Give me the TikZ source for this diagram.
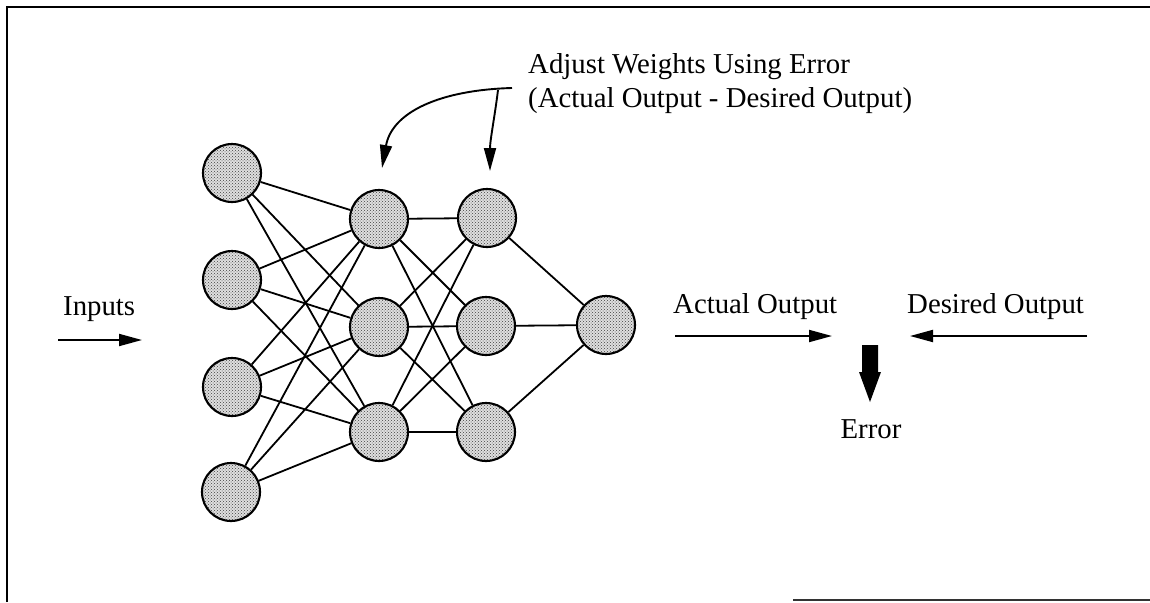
\documentclass[tikz,border=0pt]{standalone}
\usepackage{fontspec}
\setmainfont{Liberation Serif}
\usetikzlibrary{arrows.meta,patterns}

\begin{document}
\begin{tikzpicture}[x=1pt,y=-1pt,
  neuron/.style={circle, draw=black, line width=2.1pt, minimum size=58pt, inner sep=0pt,
    preaction={fill=gray!25}, pattern=crosshatch dots, pattern color=black!75},
  link/.style={line width=1.8pt},
  lbl/.style={anchor=base west, inner sep=0pt, font=\fontsize{28.8}{33}\selectfont},
  flow/.style={line width=1.9pt, -{Triangle[length=23pt,width=12pt]}},
  frame/.style={line width=2pt},
]
\useasboundingbox (0,0) rectangle (1150,602);
\fill[white] (0,0) rectangle (1150,602);

% border
\draw[frame] (7,602) -- (7,7) -- (1150,7);
\draw[line width=2.5pt, black!80] (793,600) -- (1150,600);

% input layer
\node[neuron] (I1) at (232,173) {};
\node[neuron] (I2) at (232,280) {};
\node[neuron] (I3) at (232,387) {};
\node[neuron] (I4) at (231,492) {};
% first hidden layer
\node[neuron] (H1) at (379,219) {};
\node[neuron] (H2) at (379,327) {};
\node[neuron] (H3) at (379,432) {};
% second hidden layer
\node[neuron] (G1) at (487,218) {};
\node[neuron] (G2) at (486,326) {};
\node[neuron] (G3) at (486,432) {};
% output neuron
\node[neuron] (O) at (606,325) {};

% weights
\foreach \i in {1,...,4}
  \foreach \j in {1,2,3}
    \draw[link] (I\i) -- (H\j);
\foreach \i in {1,2,3}
  \foreach \j in {1,2,3}
    \draw[link] (H\i) -- (G\j);
\foreach \j in {1,2,3}
  \draw[link] (G\j) -- (O);

% labels
\node[lbl] (inputs) at (63,315) {Inputs};
\node[lbl] (actual) at (673,313) {Actual Output};
\node[lbl] (desired) at (907,313) {Desired Output};
\node[lbl] (adj1) at (528,74) {Adjust Weights Using Error};
\node[lbl] (adj2) at (528,107) {(Actual Output - Desired Output)};
\node[lbl, anchor=base] (err) at (871,438) {Error};

% input and output arrows
\coordinate (inA) at (58,340);
\coordinate (inB) at (142,340);
\draw[flow] (inA) -- (inB);
\coordinate (actA) at (675,336);
\coordinate (actB) at (832,336);
\draw[flow] (actA) -- (actB);
\coordinate (desA) at (1087,336);
\coordinate (desB) at (910,336);
\draw[flow] (desA) -- (desB);

% error arrow
\fill[black] (862,345) -- (878,345) -- (878,372) -- (881,372) -- (870,402)
  -- (859,372) -- (862,372) -- cycle;

% feedback arrows
\coordinate (fb) at (512,88);
\coordinate (fb2) at (498,90);
\coordinate (tip1) at (382,168);
\coordinate (tip2) at (490,171);
\draw[flow] (fb) .. controls (440,90) and (392,112) .. (tip1);
\draw[flow] (fb2) .. controls (495,115) and (490,140) .. (tip2);
\end{tikzpicture}
\end{document}
